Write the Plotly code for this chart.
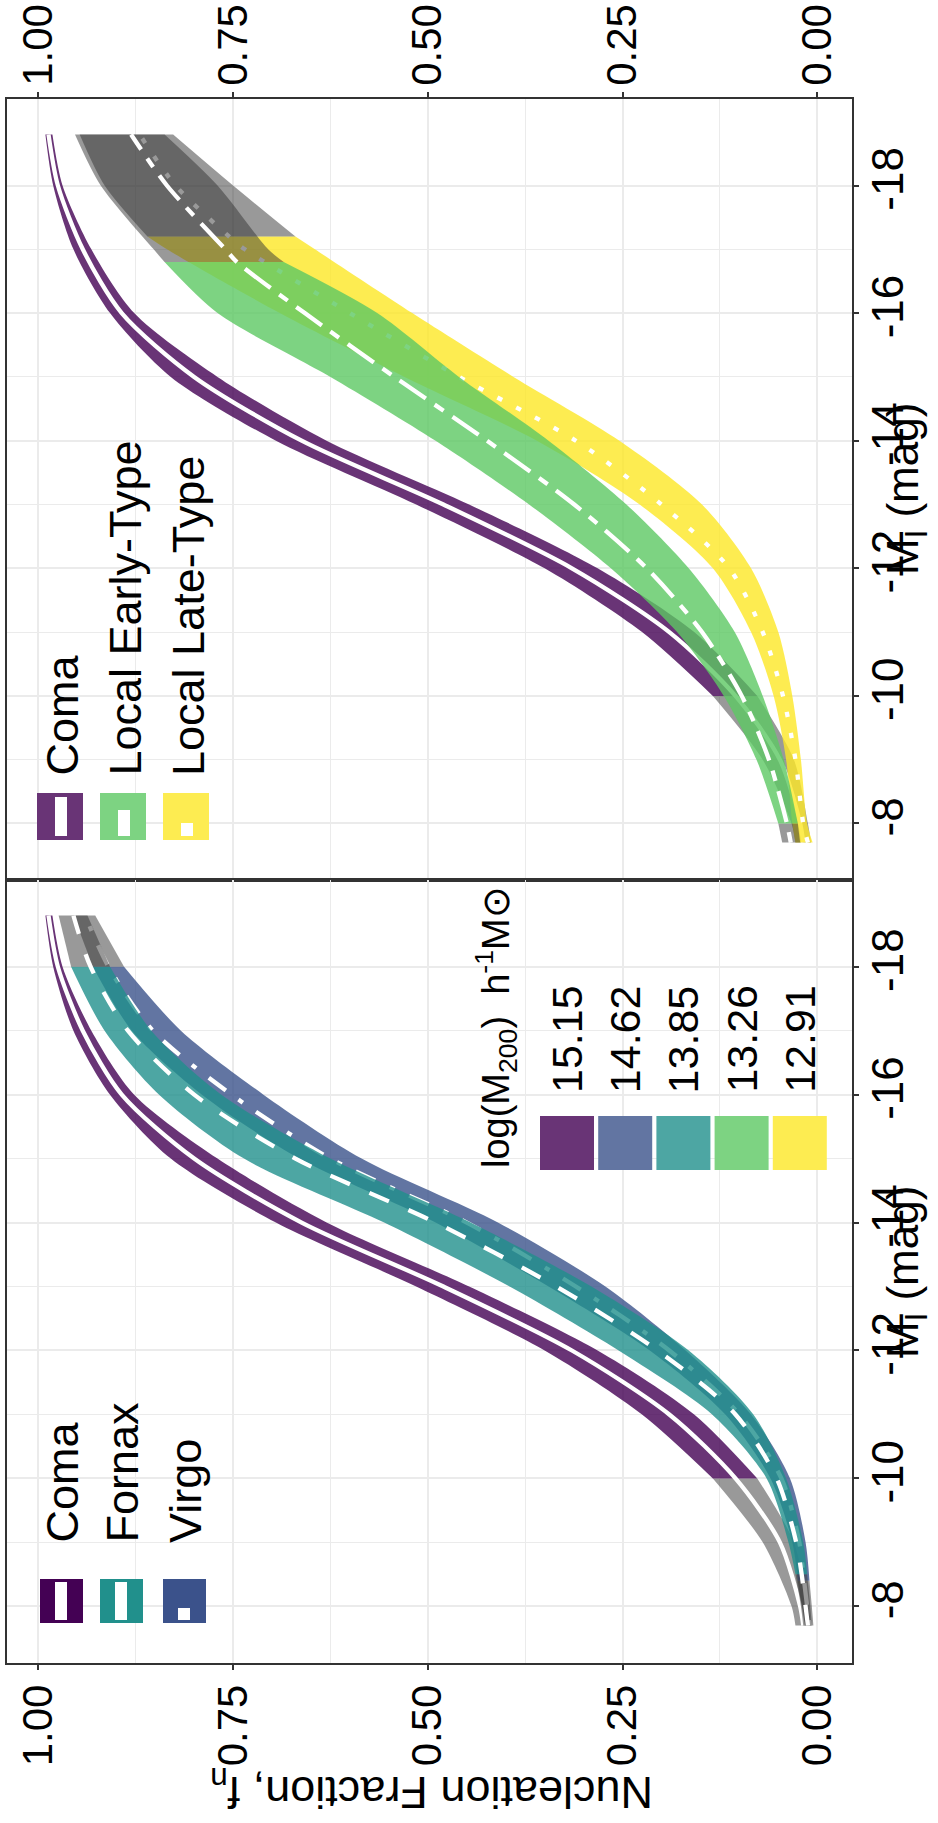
import plotly.graph_objects as go

W, H = 938, 1823
FONT = "Liberation Sans"

# ---------------------------------------------------------------------------
# Nucleation fraction vs. absolute magnitude M_I : lower edge, centre, upper edge
# Each sample list also carries the magnitude range covered by the observations;
# outside that range the band is shown in grey (extrapolation).
# ---------------------------------------------------------------------------
M_COMA = [-7.7, -8, -9, -10, -11, -12, -13, -14, -15, -16, -17, -18, -18.8]
COMA_LO = [0.008, 0.012, 0.030, 0.077, 0.158, 0.282, 0.447, 0.630, 0.770, 0.877, 0.932, 0.969, 0.982]
COMA_MID = [0.018, 0.022, 0.048, 0.105, 0.190, 0.315, 0.480, 0.662, 0.800, 0.893, 0.943, 0.975, 0.987]
COMA_HI = [0.028, 0.033, 0.070, 0.134, 0.225, 0.350, 0.515, 0.695, 0.830, 0.908, 0.955, 0.981, 0.991]
COMA_OBS = (-10, -18.8)

M_FORNAX = [-7.7, -8, -8.5, -9, -10, -11, -12, -13, -14, -15, -16, -17, -18, -18.8]
FORNAX_LO = [0.007, 0.009, 0.013, 0.018, 0.040, 0.082, 0.165, 0.290, 0.445, 0.625, 0.765, 0.855, 0.908, 0.937]
FORNAX_MID = [0.012, 0.015, 0.020, 0.027, 0.052, 0.105, 0.205, 0.335, 0.490, 0.670, 0.800, 0.885, 0.933, 0.955]
FORNAX_HI = [0.018, 0.021, 0.028, 0.037, 0.065, 0.135, 0.255, 0.395, 0.556, 0.736, 0.845, 0.915, 0.958, 0.974]
FORNAX_OBS = (-8.5, -18)

M_VIRGO = [-7.7, -8, -8.4, -9, -10, -11, -12, -13, -14, -15, -16, -17, -18, -18.8]
VIRGO_LO = [0.005, 0.007, 0.010, 0.015, 0.035, 0.085, 0.169, 0.272, 0.410, 0.585, 0.711, 0.817, 0.890, 0.927]
VIRGO_MID = [0.010, 0.013, 0.017, 0.023, 0.046, 0.100, 0.190, 0.310, 0.450, 0.625, 0.752, 0.853, 0.910, 0.940]
VIRGO_HI = [0.016, 0.020, 0.025, 0.032, 0.060, 0.118, 0.215, 0.345, 0.490, 0.665, 0.790, 0.880, 0.930, 0.955]
VIRGO_OBS = (-8.4, -18)

M_EARLY = [-7.7, -8, -9, -10, -11, -12, -13, -14, -15, -16, -16.8, -17, -18, -18.8]
EARLY_LO = [0.022, 0.025, 0.043, 0.070, 0.106, 0.165, 0.245, 0.345, 0.460, 0.565, 0.685, 0.705, 0.770, 0.838]
EARLY_MID = [0.034, 0.039, 0.062, 0.097, 0.148, 0.219, 0.312, 0.424, 0.543, 0.658, 0.745, 0.760, 0.835, 0.881]
EARLY_HI = [0.045, 0.050, 0.078, 0.120, 0.180, 0.265, 0.370, 0.490, 0.625, 0.770, 0.838, 0.852, 0.920, 0.953]
EARLY_OBS = (-8, -16.8)

M_LATE = [-7.7, -8, -9, -10, -11, -12, -13, -14, -15, -16, -17, -17.2, -18, -18.8]
LATE_LO = [0.006, 0.013, 0.021, 0.032, 0.050, 0.085, 0.148, 0.254, 0.390, 0.520, 0.645, 0.670, 0.750, 0.827]
LATE_MID = [0.012, 0.018, 0.028, 0.044, 0.070, 0.113, 0.200, 0.310, 0.460, 0.600, 0.735, 0.755, 0.824, 0.870]
LATE_HI = [0.028, 0.032, 0.040, 0.056, 0.085, 0.134, 0.228, 0.360, 0.530, 0.690, 0.835, 0.860, 0.915, 0.947]
LATE_OBS = (-7.7, -17.2)

# Halo-mass key
MASS_LABELS = ["15.15", "14.62", "13.85", "13.26", "12.91"]

FRAC_TICKS = [0, 0.25, 0.5, 0.75, 1.0]
FRAC_TEXT = ["0.00", "0.25", "0.50", "0.75", "1.00"]
MAG_TICKS = [-8, -10, -12, -14, -16, -18]
MAG_TEXT = ["-8", "-10", "-12", "-14", "-16", "-18"]

# viridis colours
C_COMA, C_VIRGO, C_FORNAX, C_EARLY, C_LATE = "#440154", "#3B528B", "#21908C", "#5DC863", "#FDE725"
ALPHA = 0.8
GREY_FILL = "rgba(51,51,51,0.5)"


def rgba(hex_col, a):
    h = hex_col.lstrip("#")
    r, g, b = int(h[0:2], 16), int(h[2:4], 16), int(h[4:6], 16)
    return f"rgba({r},{g},{b},{a})"


def blend(hex_col, a):
    h = hex_col.lstrip("#")
    vals = [int(h[i:i + 2], 16) for i in (0, 2, 4)]
    return "#" + "".join(f"{round(a * v + (1 - a) * 255):02X}" for v in vals)


# dash patterns (ggplot-like, scaled to the line width)
U = 5.3
DASHES = {
    "solid": "solid",
    "dashed": f"{4*U}px,{4*U}px",
    "dotted": f"{U}px,{3*U}px",
    "dotdash": f"{U}px,{3*U}px,{4*U}px,{3*U}px",
    "twodash": f"{2*U}px,{2*U}px,{6*U}px,{2*U}px",
}

fig = go.Figure()


def add_band(m, lo, hi, fill, xa, ya):
    fig.add_trace(go.Scatter(x=lo, y=m, mode="lines", xaxis=xa, yaxis=ya,
                             line=dict(width=0, shape="spline", smoothing=0.8),
                             hoverinfo="skip", showlegend=False))
    fig.add_trace(go.Scatter(x=hi, y=m, mode="lines", xaxis=xa, yaxis=ya,
                             line=dict(width=0, shape="spline", smoothing=0.8),
                             fill="tonextx", fillcolor=fill,
                             hoverinfo="skip", showlegend=False))


def add_group(m, lo, mid, hi, obs, colour, dash, xa, ya):
    faint, bright = obs
    parts = [
        ([i for i, v in enumerate(m) if v >= faint], GREY_FILL),
        ([i for i, v in enumerate(m) if bright <= v <= faint], rgba(colour, ALPHA)),
        ([i for i, v in enumerate(m) if v <= bright], GREY_FILL),
    ]
    for idx, fill in parts:
        if len(idx) >= 2:
            add_band([m[i] for i in idx], [lo[i] for i in idx], [hi[i] for i in idx], fill, xa, ya)
    fig.add_trace(go.Scatter(x=mid, y=m, mode="lines", xaxis=xa, yaxis=ya,
                             line=dict(color="white", width=4.3, dash=DASHES[dash],
                                       shape="spline", smoothing=0.8),
                             hoverinfo="skip", showlegend=False))


# right-hand panel (upper in the page): Coma vs local early / late types
add_group(M_COMA, COMA_LO, COMA_MID, COMA_HI, COMA_OBS, C_COMA, "solid", "x", "y")
add_group(M_LATE, LATE_LO, LATE_MID, LATE_HI, LATE_OBS, C_LATE, "dotted", "x", "y")
add_group(M_EARLY, EARLY_LO, EARLY_MID, EARLY_HI, EARLY_OBS, C_EARLY, "twodash", "x", "y")

# left-hand panel (lower in the page): Coma, Fornax, Virgo
add_group(M_COMA, COMA_LO, COMA_MID, COMA_HI, COMA_OBS, C_COMA, "solid", "x2", "y2")
add_group(M_VIRGO, VIRGO_LO, VIRGO_MID, VIRGO_HI, VIRGO_OBS, C_VIRGO, "dotdash", "x2", "y2")
add_group(M_FORNAX, FORNAX_LO, FORNAX_MID, FORNAX_HI, FORNAX_OBS, C_FORNAX, "dashed", "x2", "y2")


def px_x(x):
    return x / W


def px_y(y):
    return 1 - y / H


X_DOM = [px_x(7), px_x(852)]
TOP_DOM = [px_y(880), px_y(99)]
BOT_DOM = [px_y(1663), px_y(880)]
FRAC_RANGE = [1.0403, -0.0446]
MAG_RANGE = [-7.114, -19.356]

common_x = dict(range=FRAC_RANGE, domain=X_DOM, tickvals=FRAC_TICKS, ticktext=FRAC_TEXT,
                tickangle=-90, tickfont=dict(family=FONT, size=42, color="black"),
                ticks="outside", ticklen=5, tickwidth=1.5, ticklabelstandoff=-2,
                tickcolor="#333333", showline=True, mirror=True, linecolor="#333333", linewidth=1.5,
                showgrid=True, gridcolor="#EBEBEB", gridwidth=1.5, zeroline=False,
                minor=dict(tickvals=[0.125, 0.375, 0.625, 0.875], showgrid=True,
                           gridcolor="#EBEBEB", gridwidth=1, ticks=""))
common_y = dict(range=MAG_RANGE, tickvals=MAG_TICKS, ticktext=MAG_TEXT, side="right",
                tickangle=-90, tickfont=dict(family=FONT, size=44, color="black"),
                ticks="outside", ticklen=5, tickwidth=1.5, ticklabelstandoff=-9,
                tickcolor="#333333", showline=True, mirror=True, linecolor="#333333", linewidth=1.5,
                showgrid=True, gridcolor="#EBEBEB", gridwidth=1.5, zeroline=False,
                minor=dict(tickvals=[-9, -11, -13, -15, -17], showgrid=True,
                           gridcolor="#EBEBEB", gridwidth=1, ticks=""))

fig.update_layout(
    width=W, height=H, margin=dict(l=0, r=0, t=0, b=0),
    paper_bgcolor="white", plot_bgcolor="white", showlegend=False,
    xaxis=dict(common_x, side="top", anchor="y"),
    yaxis=dict(common_y, domain=TOP_DOM, anchor="x"),
    xaxis2=dict(common_x, side="bottom", anchor="y2"),
    yaxis2=dict(common_y, domain=BOT_DOM, anchor="x2"),
)

ann = []
shapes = []


def text(s, x, y, size, angle=-90, xanchor="center", yanchor="middle"):
    ann.append(dict(text=s, x=px_x(x), y=px_y(y), xref="paper", yref="paper",
                    showarrow=False, textangle=angle, xanchor=xanchor, yanchor=yanchor,
                    font=dict(family=FONT, size=size, color="black")))


def rect(x0, y0, x1, y1, colour):
    shapes.append(dict(type="rect", xref="paper", yref="paper",
                       x0=px_x(x0), x1=px_x(x1), y0=px_y(y1), y1=px_y(y0),
                       fillcolor=colour, line=dict(width=0), layer="above"))


# axis titles
text("Nucleation Fraction, f<sub>n</sub>", 432, 1790, 45, angle=180)
text("M<sub>I</sub> (mag)", 906, 489, 44)
text("M<sub>I</sub> (mag)", 906, 1272, 44)

# legend: upper panel
top_keys = [("Coma", blend(C_COMA, ALPHA), 37, 797), ("Local Early-Type", blend(C_EARLY, ALPHA), 100, 810),
            ("Local Late-Type", blend(C_LATE, ALPHA), 163, 823)]
for label, col, x0, bar_top in top_keys:
    rect(x0, 793, x0 + 46, 840, col)
    rect(x0 + 18, bar_top, x0 + 30, 836, "white")
    text(label, x0 + 25, 778, 45, yanchor="bottom")

# legend: lower panel
bot_keys = [("Coma", C_COMA, 40, 1582), ("Fornax", C_FORNAX, 100, 1582), ("Virgo", C_VIRGO, 163, 1608)]
for label, col, x0, bar_top in bot_keys:
    rect(x0, 1579, x0 + 43, 1623, col)
    rect(x0 + 15, bar_top, x0 + 27, 1620, "white")
    text(label, x0 + 22, 1545, 45, yanchor="bottom")

# halo-mass key
text("log(M<sub>200</sub>)  h<sup>-1</sup>M⊙", 496, 1170, 38, yanchor="bottom")
mass_cols = [C_COMA, C_VIRGO, C_FORNAX, C_EARLY, C_LATE]
for i, (lab, col) in enumerate(zip(MASS_LABELS, mass_cols)):
    x0 = 540 + i * 58.2
    rect(x0, 1116, x0 + 54, 1170, blend(col, ALPHA))
    text(lab, x0 + 27, 1095, 43, yanchor="bottom")

fig.update_layout(annotations=ann, shapes=shapes)
fig.write_html("out.html")
